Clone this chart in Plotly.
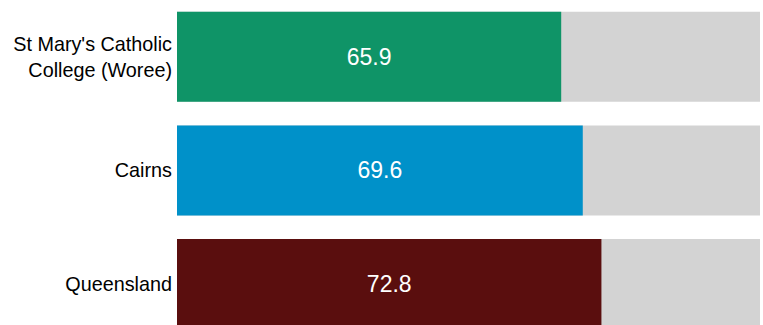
import plotly.graph_objects as go

categories = ["St Mary's Catholic<br>College (Woree)", "Cairns", "Queensland"]
values = [65.9, 69.6, 72.8]
max_values = [100, 100, 100]
colors = ["#0f9467", "#0091c9", "#5a0e0e"]

positions = list(range(len(categories)))

fig = go.Figure()
fig.add_trace(go.Bar(
    y=positions, x=max_values, orientation="h",
    marker=dict(color="#d3d3d3", line=dict(width=0)),
    hoverinfo="skip", showlegend=False,
))
fig.add_trace(go.Bar(
    y=positions, x=values, orientation="h",
    marker=dict(color=colors, line=dict(width=0)),
    text=[f"{v:.1f}" for v in values],
    textposition="inside", insidetextanchor="middle",
    textfont=dict(color="white", size=23, family="Liberation Sans, Arial"),
    showlegend=False,
))

fig.update_layout(
    width=763, height=325,
    margin=dict(l=177, r=3, t=0, b=0),
    barmode="overlay", bargap=0.208,
    plot_bgcolor="white", paper_bgcolor="white",
    font=dict(family="Liberation Sans, Arial", color="black"),
    xaxis=dict(range=[0, 100], visible=False, fixedrange=True),
    yaxis=dict(
        range=[2.36, -0.499],
        tickvals=positions, ticktext=categories,
        tickfont=dict(size=19.8, color="black"),
        showgrid=False, zeroline=False, showline=False,
        ticks="", ticklabelstandoff=4,
    ),
)

fig.write_html("out.html")
